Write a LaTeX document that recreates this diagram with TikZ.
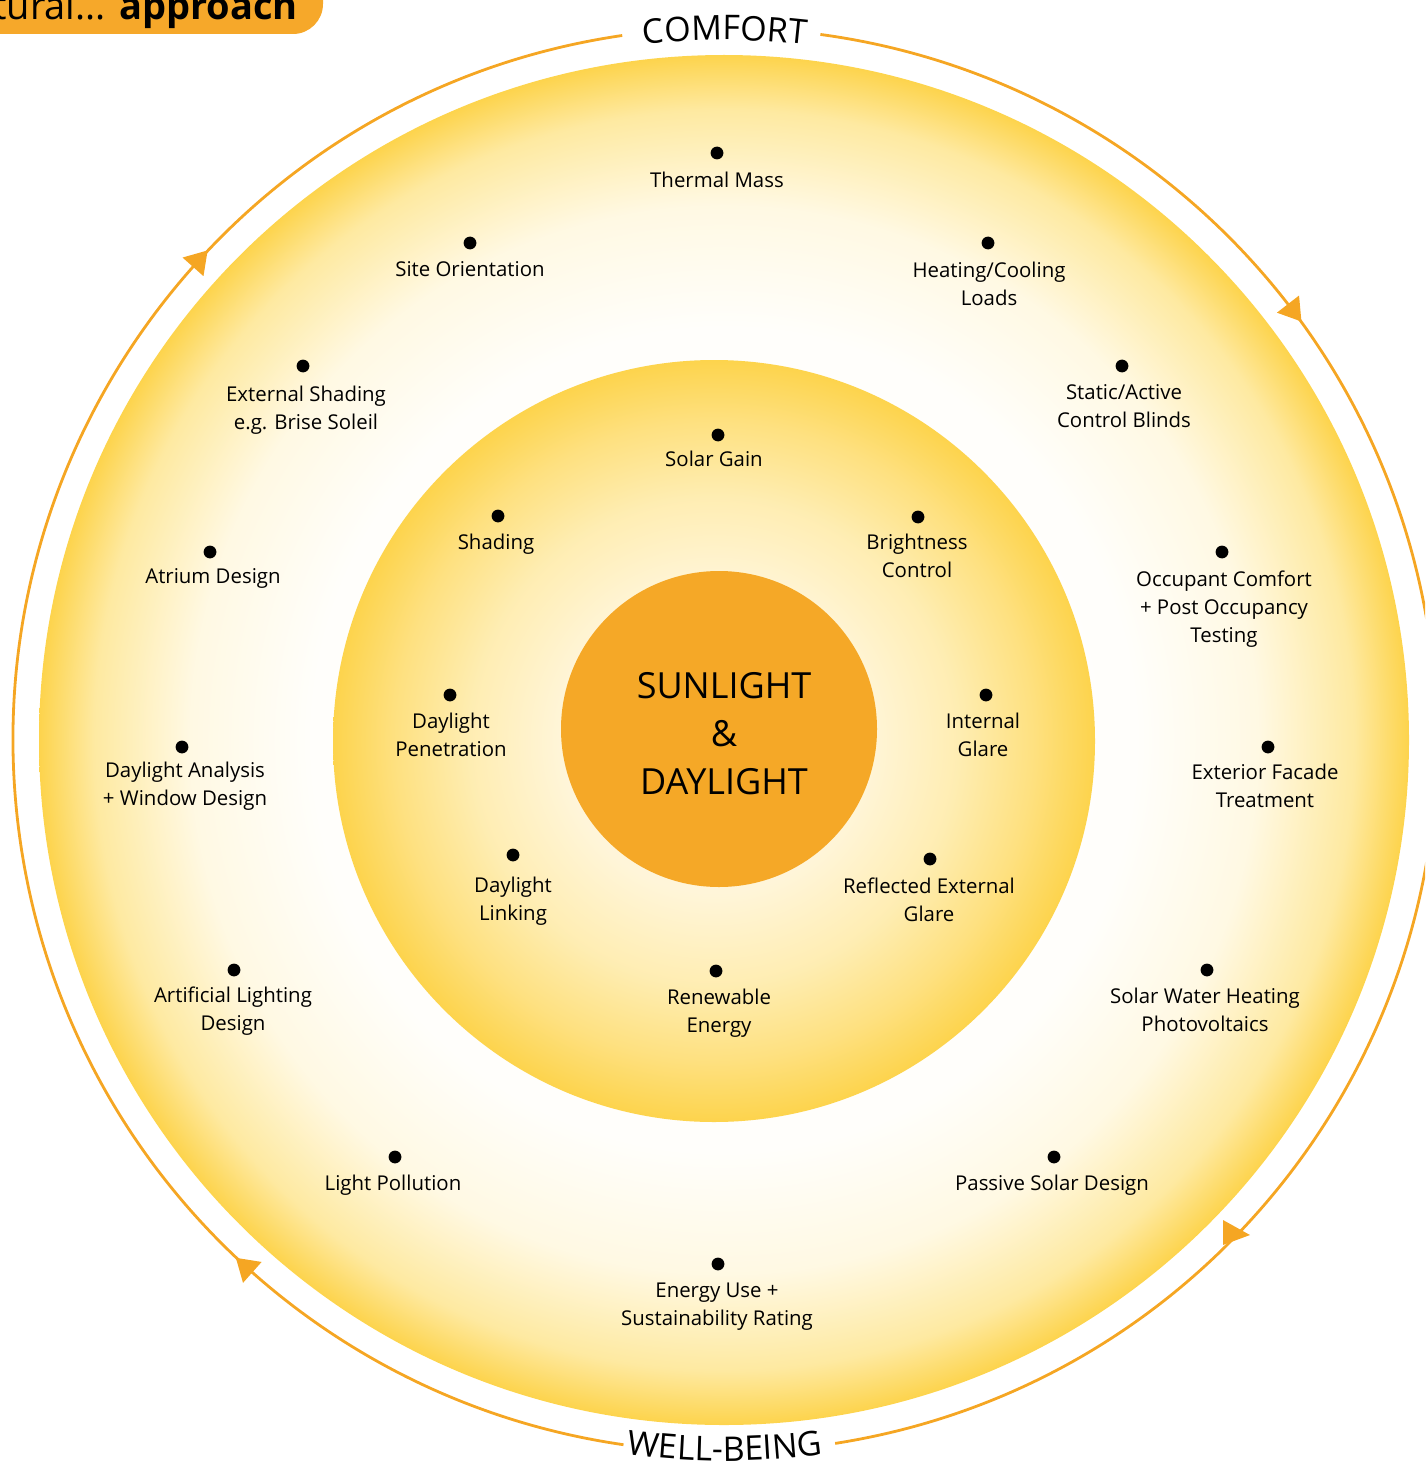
\documentclass[tikz,border=0pt]{standalone}
\usepackage{fontspec}
\setmainfont{Open Sans}
\usetikzlibrary{calc,decorations.text}
\definecolor{ringorange}{RGB}{245,166,35}
\definecolor{coreorange}{RGB}{245,168,39}
\definecolor{bannerorange}{RGB}{246,168,42}
\pgfdeclareradialshading{outerglow}{\pgfpoint{0bp}{0bp}}{rgb(0bp)=(1,1,1); rgb(15bp)=(1,0.997,0.985); rgb(19.5bp)=(1,0.975,0.89); rgb(23bp)=(0.996,0.915,0.63); rgb(25bp)=(0.992,0.83,0.30); rgb(50bp)=(0.992,0.83,0.30)}
\pgfdeclareradialshading{innerglow}{\pgfpoint{0bp}{0bp}}{rgb(0bp)=(1,0.975,0.9); rgb(10bp)=(1,0.962,0.85); rgb(16bp)=(0.998,0.93,0.70); rgb(21bp)=(0.995,0.88,0.50); rgb(25bp)=(0.992,0.83,0.30); rgb(50bp)=(0.992,0.83,0.30)}
\newcommand\arcfont{\fontsize{17}{20}\selectfont}
\tikzset{
  lbl/.style={font=\fontsize{10.2}{14}\selectfont, align=center, anchor=north, inner sep=0pt, text=black},
  dotmark/.style={circle, fill=black, inner sep=0pt, minimum size=6.4pt},
  ringline/.style={draw=ringorange, line width=1.4pt},
  flowtip/.pic={\fill[ringorange] (22,0) -- (0,14) -- (0,-14) -- cycle;}
}
\begin{document}
\begin{tikzpicture}[x=0.5pt,y=0.5pt]
\useasboundingbox (0,0) rectangle (1425,-1471);
\begin{scope}
\clip (0,0) rectangle (1425,-1471);
\coordinate (c) at (725,-740);
% banner
\fill[bannerorange, rounded corners=15] (-40,40) rectangle (323,-34);
\node[anchor=base east, inner sep=0pt, font=\fontsize{19}{20}\selectfont] (bannertext) at (298,-20) {tural... \textbf{approach}};
% disks
\node[circle, shading=outerglow, minimum size=685pt, inner sep=0pt] (outer) at (724,-740) {};
\node[circle, shading=innerglow, minimum size=381pt, inner sep=0pt] (inner) at (714,-741) {};
\node[circle, fill=coreorange, minimum size=158pt, inner sep=0pt] (core) at (719,-729) {};
\node[align=center, inner sep=0pt, font=\fontsize{18}{24}\selectfont] (coretext) at (724,-734) {SUNLIGHT\\\&\\DAYLIGHT};
% surrounding ring
\draw[ringline] ($(c)+(98.3:712)$) arc[start angle=98.3, end angle=261.8, radius=712];
\draw[ringline] ($(c)+(278.9:712)$) arc[start angle=278.9, end angle=442.3, radius=712];
\pic[rotate=48.35] at ($(c)+(138.35:712)$) {flowtip};
\pic[rotate=-52.25] at ($(c)+(37.75:712)$) {flowtip};
\pic[rotate=138.4] at ($(c)+(228.4:712)$) {flowtip};
\fill[ringorange] (1223,-1220) -- (1223,-1245) -- (1250,-1235) -- cycle;
\path[decorate, decoration={text along path, text align=center, text={|\arcfont|COMFORT}}] ($(c)+(100:700)$) arc[start angle=100, end angle=80, radius=700];
\path[decorate, decoration={text along path, text align=center, text={|\arcfont|WELL-BEING}}] ($(c)+(261:721)$) arc[start angle=261, end angle=279, radius=721];
% outer ring items
\node[dotmark] (d1) at (717,-153) {};
\node[lbl] (t1) at (717,-172) {Thermal Mass};
\node[dotmark] (d2) at (470,-243) {};
\node[lbl] (t2) at (470,-261) {Site Orientation};
\node[dotmark] (d3) at (988,-243) {};
\node[lbl] (t3) at (989,-262) {Heating/Cooling\\Loads};
\node[dotmark] (d4) at (303,-366) {};
\node[lbl] (t4) at (306,-386) {External Shading\\e.g. Brise Soleil};
\node[dotmark] (d5) at (1122,-366) {};
\node[lbl] (t5) at (1124,-384) {Static/Active\\Control Blinds};
\node[dotmark] (d6) at (210,-552) {};
\node[lbl] (t6) at (213,-568) {Atrium Design};
\node[dotmark] (d7) at (1222,-552) {};
\node[lbl] (t7) at (1224,-570) {Occupant Comfort\\+ Post Occupancy\\Testing};
\node[dotmark] (d8) at (182,-747) {};
\node[lbl] (t8) at (185,-762) {Daylight Analysis\\+ Window Design};
\node[dotmark] (d9) at (1268,-747) {};
\node[lbl] (t9) at (1265,-764) {Exterior Facade\\Treatment};
\node[dotmark] (d10) at (234,-970) {};
\node[lbl] (t10) at (233,-986) {Artificial Lighting\\Design};
\node[dotmark] (d11) at (1207,-970) {};
\node[lbl] (t11) at (1205,-988) {Solar Water Heating\\Photovoltaics};
\node[dotmark] (d12) at (395,-1157) {};
\node[lbl] (t12) at (393,-1175) {Light Pollution};
\node[dotmark] (d13) at (1054,-1157) {};
\node[lbl] (t13) at (1052,-1175) {Passive Solar Design};
\node[dotmark] (d14) at (718,-1264) {};
\node[lbl] (t14) at (717,-1283) {Energy Use +\\Sustainability Rating};
% inner ring items
\node[dotmark] (e1) at (718,-435) {};
\node[lbl] (u1) at (714,-451) {Solar Gain};
\node[dotmark] (e2) at (498,-516) {};
\node[lbl] (u2) at (496,-534) {Shading};
\node[dotmark] (e3) at (918,-517) {};
\node[lbl] (u3) at (917,-534) {Brightness\\Control};
\node[dotmark] (e4) at (450,-695) {};
\node[lbl] (u4) at (451,-713) {Daylight\\Penetration};
\node[dotmark] (e5) at (986,-695) {};
\node[lbl] (u5) at (983,-713) {Internal\\Glare};
\node[dotmark] (e6) at (513,-855) {};
\node[lbl] (u6) at (513,-877) {Daylight\\Linking};
\node[dotmark] (e7) at (930,-859) {};
\node[lbl] (u7) at (929,-877) {Reflected External\\Glare};
\node[dotmark] (e8) at (716,-971) {};
\node[lbl] (u8) at (719,-989) {Renewable\\Energy};
\end{scope}
\end{tikzpicture}
\end{document}
